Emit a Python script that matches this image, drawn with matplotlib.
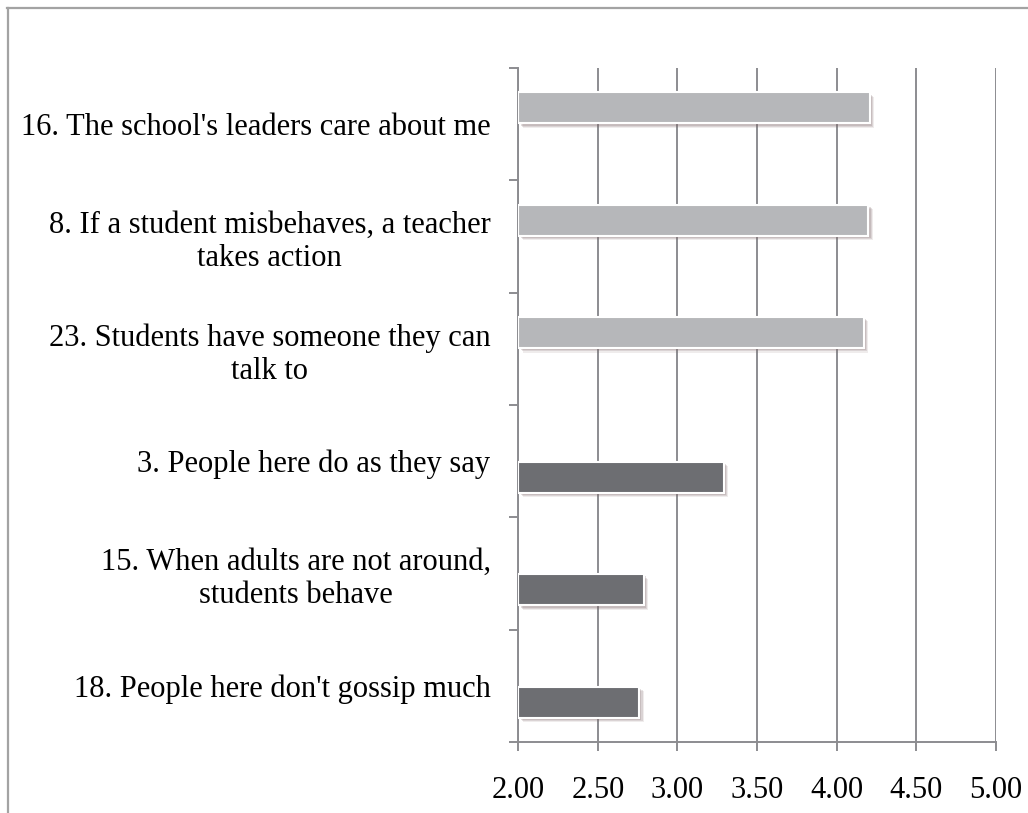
import numpy as np
import matplotlib
matplotlib.use("Agg")
from matplotlib import pyplot as plt
from matplotlib import patheffects as pe
from matplotlib.lines import Line2D

# survey items, top to bottom
categories = [
    "16. The school's leaders care about me",
    "8. If a student misbehaves, a teacher\ntakes action",
    "23. Students have someone they can\ntalk to",
    "3. People here do as they say",
    "15. When adults are not around,\nstudents behave",
    "18. People here don't gossip much",
]
high_scores = [4.21, 4.20, 4.17, np.nan, np.nan, np.nan]
low_scores = [np.nan, np.nan, np.nan, 3.29, 2.79, 2.76]
xticks = [2.0, 2.5, 3.0, 3.5, 4.0, 4.5, 5.0]

W, H = 1028, 813
plt.rcParams['font.family'] = ['Liberation Serif', 'DejaVu Serif']
fig = plt.figure(figsize=(W / 100, H / 100), dpi=100)
ax = fig.add_axes([518.3 / W, 1 - 742 / H, (995.7 - 518.3) / W, (742 - 68) / H])

axis_grey = '#8c8c90'
xmin = xticks[0]
y = np.arange(len(categories))
bar_h = 0.277
off = 0.145

# soft drop shadow: a few faint offset copies
shadow = [pe.SimplePatchShadow(offset=(d, -d), shadow_rgbFace='#7d6668', alpha=a)
          for d, a in [(3.2, 0.12), (2.4, 0.18), (1.6, 0.22)]]
shadow.append(pe.Normal())

hi = np.array(high_scores)
lo = np.array(low_scores)
ax.barh(y - off, hi - xmin, left=xmin, height=bar_h, color='#b6b7ba',
        edgecolor='white', linewidth=1.5, path_effects=shadow, zorder=3)
ax.barh(y + off, lo - xmin, left=xmin, height=bar_h, color='#6d6e72',
        edgecolor='white', linewidth=1.5, path_effects=shadow, zorder=3)

ax.set_xlim(xticks[0], xticks[-1])
ax.set_ylim(len(categories) - 0.5, -0.5)
ax.set_xticks(xticks)
ax.set_xticklabels([f"{t:.2f}" for t in xticks])
ax.set_yticks(np.arange(len(categories) + 1) - 0.5)
ax.set_yticklabels([])
ax.set_yticks(y, minor=True)
ax.set_yticklabels(categories, minor=True, multialignment='center')

ax.grid(axis='x', color=axis_grey, linewidth=1.4, zorder=0)
ax.set_axisbelow(True)
for s in ['top', 'right']:
    ax.spines[s].set_visible(False)
for s in ['left', 'bottom']:
    ax.spines[s].set_color(axis_grey)
    ax.spines[s].set_linewidth(1.4)

ax.tick_params(axis='x', which='major', direction='out', length=6.5, width=1.4,
               color=axis_grey, labelsize=22, pad=18)
ax.tick_params(axis='y', which='major', direction='out', length=6.5, width=1.4,
               color=axis_grey)
ax.tick_params(axis='y', which='minor', length=0, labelsize=22, pad=20)

# outer chart frame (cut off at right and bottom)
fig.add_artist(Line2D([7.5 / W, 7.5 / W], [0, 1 - 8 / H], color='#a3a3a3', linewidth=1.6))
fig.add_artist(Line2D([7 / W, 1], [1 - 8 / H, 1 - 8 / H], color='#a3a3a3', linewidth=1.6))

fig.savefig("out.png", dpi=100)
